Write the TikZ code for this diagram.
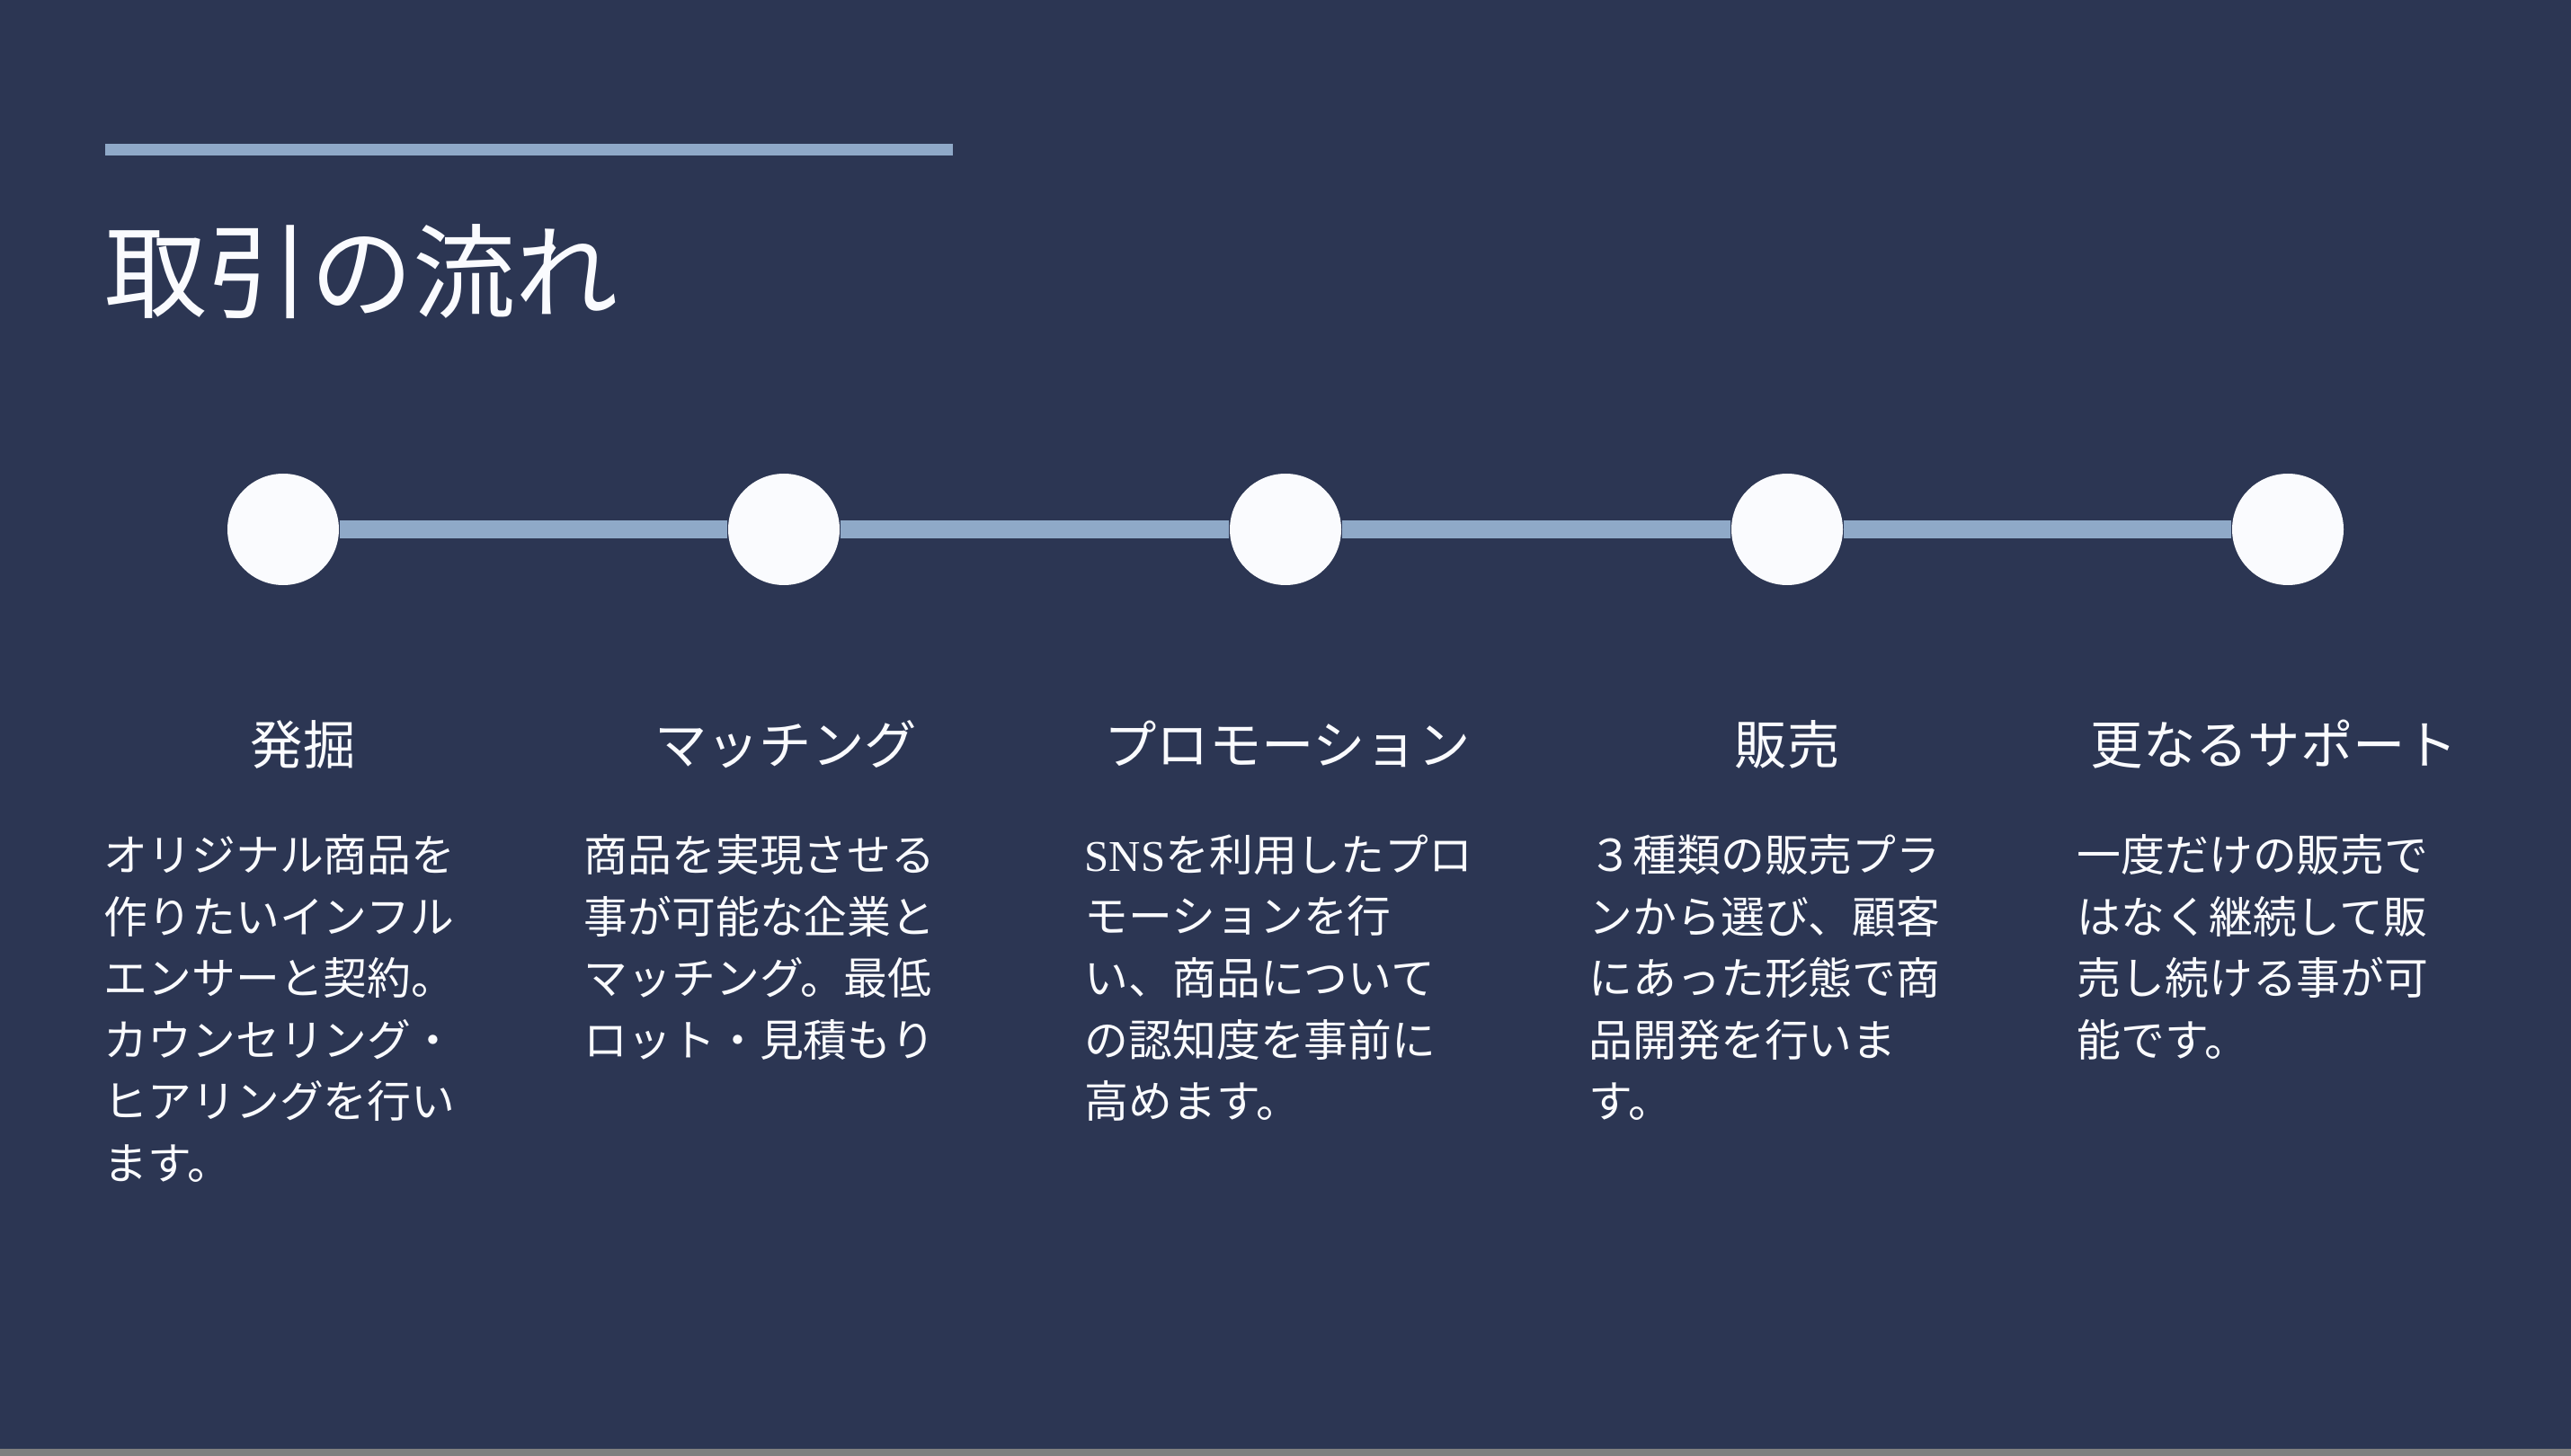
\documentclass[tikz,border=0pt]{standalone}
\usepackage{fontspec}
\setmainfont{Noto Sans CJK JP}
\newfontfamily\snsfont{Liberation Serif}
\usetikzlibrary{positioning}
\definecolor{navy}{HTML}{2C3653}
\definecolor{steel}{HTML}{8FA9C8}
\definecolor{snow}{HTML}{FAFBFE}
\definecolor{edge}{HTML}{7F7F7F}

\begin{document}
\begin{tikzpicture}[
  dot/.style={circle,fill=snow,minimum size=1.24cm,inner sep=0pt},
  head/.style={text=snow,anchor=base,inner sep=0pt,font=\fontsize{16.6}{20}\selectfont},
  body/.style={text=snow,anchor=north west,align=left,inner sep=0pt,font=\fontsize{13.9}{19.5}\selectfont}]
  \fill[navy] (0,0) rectangle (28.6,-16.12);
  \fill[edge] (0,-16.12) rectangle (28.6,-16.2);
  \fill[steel] (1.17,-1.60) rectangle (10.60,-1.73);
  \node[text=snow,anchor=base west,inner sep=0pt,font=\fontsize{32.5}{38}\selectfont] (title) at (1.16,-3.46) {取引の流れ};
  % timeline
  \node[dot] (s1) at (3.15,-5.89) {};
  \node[dot] (s2) at (8.72,-5.89) {};
  \node[dot] (s3) at (14.30,-5.89) {};
  \node[dot] (s4) at (19.88,-5.89) {};
  \node[dot] (s5) at (25.45,-5.89) {};
  \foreach \a/\b in {s1/s2,s2/s3,s3/s4,s4/s5}
    \draw[steel,line width=0.2cm] (\a) -- (\b);
  % steps
  \node[head] (h1) at (3.37,-8.50) {発掘};
  \node[head] (h2) at (8.74,-8.50) {マッチング};
  \node[head] (h3) at (14.32,-8.50) {プロモーション};
  \node[head] (h4) at (19.88,-8.50) {販売};
  \node[head] (h5) at (25.30,-8.50) {更なるサポート};
  \node[body] (b1) at (1.15,-9.28) {オリジナル商品を\\作りたいインフル\\エンサーと契約。\\カウンセリング・\\ヒアリングを行い\\ます。};
  \node[body] (b2) at (6.49,-9.28) {商品を実現させる\\事が可能な企業と\\マッチング。最低\\ロット・見積もり};
  \node[body] (b3) at (12.06,-9.28) {{\snsfont SNS}を利用したプロ\\モーションを行\\い、商品について\\の認知度を事前に\\高めます。};
  \node[body] (b4) at (17.67,-9.28) {３種類の販売プラ\\ンから選び、顧客\\にあった形態で商\\品開発を行いま\\す。};
  \node[body] (b5) at (23.10,-9.28) {一度だけの販売で\\はなく継続して販\\売し続ける事が可\\能です。};
\end{tikzpicture}
\end{document}
